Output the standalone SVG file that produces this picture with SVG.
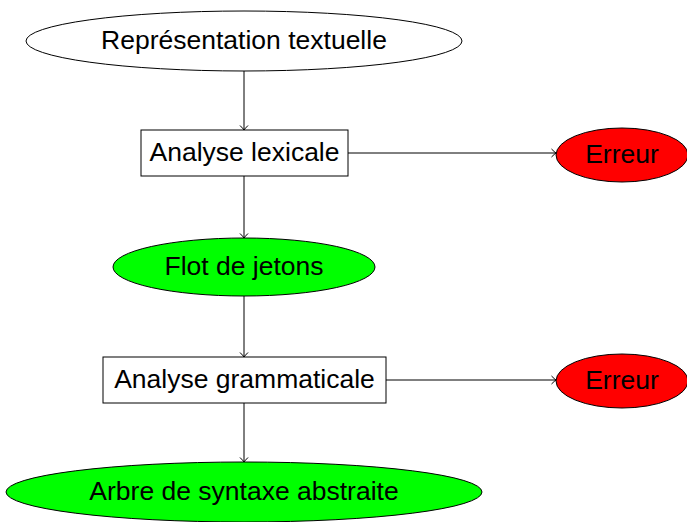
<svg xmlns="http://www.w3.org/2000/svg" width="687" height="522" viewBox="0 0 687 522">
<style>
.n{stroke:#000;stroke-width:1}
.t{font-family:"Liberation Sans","DejaVu Sans",sans-serif;font-size:26.5px;fill:#000;text-anchor:middle;dominant-baseline:central}
.e{stroke:#000;stroke-width:1;fill:none;marker-end:url(#arr)}
</style>
<defs>
<marker id="arr" markerUnits="userSpaceOnUse" markerWidth="12" markerHeight="12" refX="0" refY="0" viewBox="-6 -6 12 12" orient="auto" overflow="visible">
<path d="M-4.5,-4 Q-1.5,-1 0,0 Q-1.5,1 -4.5,4" fill="none" stroke="#000" stroke-width="1"/>
</marker>
</defs>
<g id="connectors">
<line class="e" x1="244" y1="71" x2="244" y2="130"/>
<line class="e" x1="244" y1="176" x2="244" y2="238"/>
<line class="e" x1="244" y1="296" x2="244" y2="357"/>
<line class="e" x1="244" y1="403" x2="244" y2="462"/>
<line class="e" x1="348" y1="153" x2="556" y2="153"/>
<line class="e" x1="386" y1="380" x2="556" y2="380"/>
</g>
<g id="n1"><ellipse class="n" cx="244" cy="41" rx="218" ry="30" fill="#fff"/><text class="t" x="244" y="40">Représentation textuelle</text></g>
<g id="n2"><rect class="n" x="141" y="130" width="207" height="46" fill="#fff"/><text class="t" x="244.5" y="152">Analyse lexicale</text></g>
<g id="n3"><ellipse class="n" cx="622" cy="155" rx="66" ry="27" fill="#f00"/><text class="t" x="622" y="154">Erreur</text></g>
<g id="n4"><ellipse class="n" cx="244" cy="267" rx="131" ry="29" fill="#0f0"/><text class="t" x="244" y="266">Flot de jetons</text></g>
<g id="n5"><rect class="n" x="103" y="357" width="283" height="46" fill="#fff"/><text class="t" x="244.5" y="379">Analyse grammaticale</text></g>
<g id="n6"><ellipse class="n" cx="622" cy="381" rx="66" ry="27" fill="#f00"/><text class="t" x="622" y="380">Erreur</text></g>
<g id="n7"><ellipse class="n" cx="244" cy="492" rx="238" ry="30" fill="#0f0"/><text class="t" x="244" y="491">Arbre de syntaxe abstraite</text></g>
</svg>
